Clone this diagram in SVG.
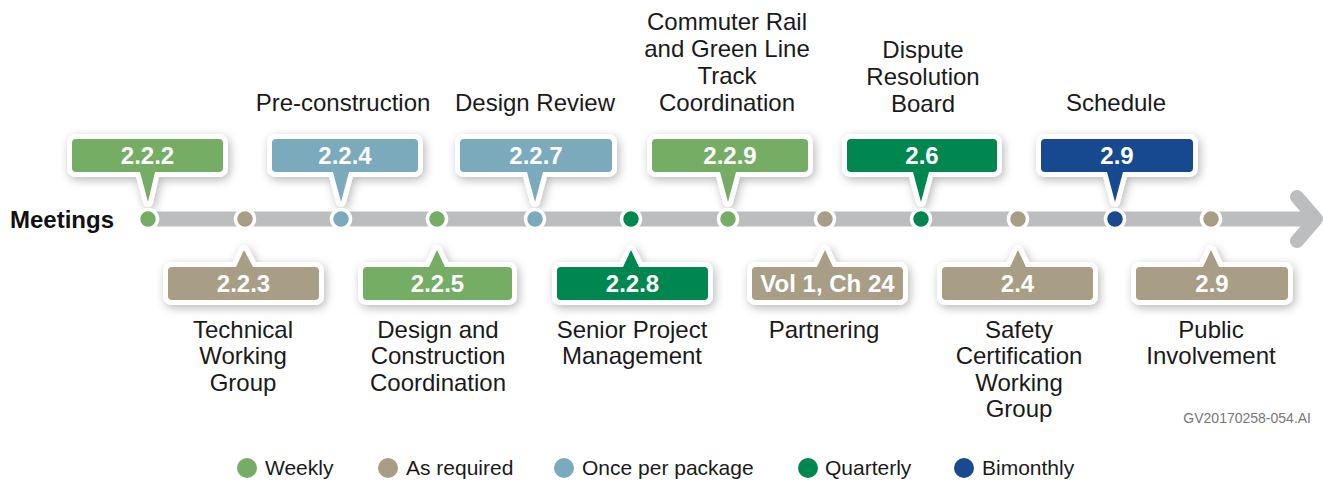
<svg xmlns="http://www.w3.org/2000/svg" width="1323" height="481" viewBox="0 0 1323 481">
<defs>
<filter id="sh" x="-20%" y="-30%" width="140%" height="180%">
<feDropShadow dx="2" dy="3" stdDeviation="5" flood-color="#000" flood-opacity="0.28"/>
</filter>
<style>
.lbl{font-family:"Liberation Sans",Arial,sans-serif;font-size:24px;fill:#1a1a1a;text-anchor:middle}
.num{font-family:"Liberation Sans",Arial,sans-serif;font-size:24px;font-weight:bold;fill:#fff;text-anchor:middle}
.leg{font-family:"Liberation Sans",Arial,sans-serif;font-size:21px;fill:#1a1a1a}
.call{stroke:#fff;stroke-width:10;stroke-linejoin:round;paint-order:stroke;filter:url(#sh)}
.dot{stroke:#fff;stroke-width:3.5}
.wk{fill:#76ad65}.ar{fill:#a89d85}.op{fill:#7aaabb}.qt{fill:#00874f}.bm{fill:#19498f}
</style>
</defs>
<rect width="1323" height="481" fill="#fff"/>
<text x="10" y="228" font-family="Liberation Sans,Arial,sans-serif" font-size="24" font-weight="bold" fill="#111">Meetings</text>
<g id="connectors">
<line x1="148" y1="219" x2="1312" y2="219" stroke="#bcbdbf" stroke-width="15"/>
<polyline points="1297,197 1316,219 1297,241" fill="none" stroke="#bcbdbf" stroke-width="14" stroke-linecap="round" stroke-linejoin="round"/>
</g>
<g id="n222"><path class="call wk" d="M76,139 H219 Q223,139 223,143 V168 Q223,172 219,172 H155 L148,202 L140,172 H76 Q72,172 72,168 V143 Q72,139 76,139 Z"/><text class="num" x="147.5" y="164">2.2.2</text><circle class="dot wk" cx="148" cy="219" r="9.5"/></g>
<g id="n224"><path class="call op" d="M276,139 H414 Q418,139 418,143 V168 Q418,172 414,172 H349 L341,202 L333,172 H276 Q272,172 272,168 V143 Q272,139 276,139 Z"/><text class="num" x="345" y="164">2.2.4</text><circle class="dot op" cx="341" cy="219" r="9.5"/><text class="lbl" x="343" y="111">Pre-construction</text></g>
<g id="n227"><path class="call op" d="M464,139 H608 Q612,139 612,143 V168 Q612,172 608,172 H543 L535,202 L527,172 H464 Q460,172 460,168 V143 Q460,139 464,139 Z"/><text class="num" x="536" y="164">2.2.7</text><circle class="dot op" cx="535" cy="219" r="9.5"/><text class="lbl" x="535" y="111">Design Review</text></g>
<g id="n229"><path class="call wk" d="M656,139 H804 Q808,139 808,143 V168 Q808,172 804,172 H736 L728,202 L720,172 H656 Q652,172 652,168 V143 Q652,139 656,139 Z"/><text class="num" x="730" y="164">2.2.9</text><circle class="dot wk" cx="728" cy="219" r="9.5"/><text class="lbl" x="727" y="30">Commuter Rail</text><text class="lbl" x="727" y="57">and Green Line</text><text class="lbl" x="727" y="84">Track</text><text class="lbl" x="727" y="111">Coordination</text></g>
<g id="n26"><path class="call qt" d="M851,139 H993 Q997,139 997,143 V168 Q997,172 993,172 H929 L921,202 L913,172 H851 Q847,172 847,168 V143 Q847,139 851,139 Z"/><text class="num" x="922" y="164">2.6</text><circle class="dot qt" cx="921" cy="219" r="9.5"/><text class="lbl" x="923" y="58">Dispute</text><text class="lbl" x="923" y="85">Resolution</text><text class="lbl" x="923" y="112">Board</text></g>
<g id="n29a"><path class="call bm" d="M1045,139 H1189 Q1193,139 1193,143 V168 Q1193,172 1189,172 H1123 L1115,202 L1107,172 H1045 Q1041,172 1041,168 V143 Q1041,139 1045,139 Z"/><text class="num" x="1117" y="164">2.9</text><circle class="dot bm" cx="1115" cy="219" r="9.5"/><text class="lbl" x="1116" y="111">Schedule</text></g>
<g id="n223"><path class="call ar" d="M172,267 H236 L244,250 L253,267 H315 Q319,267 319,271 V296 Q319,300 315,300 H172 Q168,300 168,296 V271 Q168,267 172,267 Z"/><text class="num" x="243.5" y="292">2.2.3</text><circle class="dot ar" cx="245" cy="219" r="9.5"/><text class="lbl" x="243" y="338">Technical</text><text class="lbl" x="243" y="364">Working</text><text class="lbl" x="243" y="391">Group</text></g>
<g id="n225"><path class="call wk" d="M367,267 H429 L437,250 L445,267 H508 Q512,267 512,271 V296 Q512,300 508,300 H367 Q363,300 363,296 V271 Q363,267 367,267 Z"/><text class="num" x="437.5" y="292">2.2.5</text><circle class="dot wk" cx="437" cy="219" r="9.5"/><text class="lbl" x="438" y="338">Design and</text><text class="lbl" x="438" y="364">Construction</text><text class="lbl" x="438" y="391">Coordination</text></g>
<g id="n228"><path class="call qt" d="M561,267 H623 L631,250 L639,267 H704 Q708,267 708,271 V296 Q708,300 704,300 H561 Q557,300 557,296 V271 Q557,267 561,267 Z"/><text class="num" x="632.5" y="292">2.2.8</text><circle class="dot qt" cx="631" cy="219" r="9.5"/><text class="lbl" x="632" y="338">Senior Project</text><text class="lbl" x="632" y="364">Management</text></g>
<g id="nvol"><path class="call ar" d="M756,267 H817 L825,250 L833,267 H899 Q903,267 903,271 V296 Q903,300 899,300 H756 Q752,300 752,296 V271 Q752,267 756,267 Z"/><text class="num" x="827.5" y="292">Vol 1, Ch 24</text><circle class="dot ar" cx="825" cy="219" r="9.5"/><text class="lbl" x="824" y="338">Partnering</text></g>
<g id="n24"><path class="call ar" d="M946,267 H1010 L1018,250 L1026,267 H1089 Q1093,267 1093,271 V296 Q1093,300 1089,300 H946 Q942,300 942,296 V271 Q942,267 946,267 Z"/><text class="num" x="1017.5" y="292">2.4</text><circle class="dot ar" cx="1018" cy="219" r="9.5"/><text class="lbl" x="1019" y="338">Safety</text><text class="lbl" x="1019" y="364">Certification</text><text class="lbl" x="1019" y="391">Working</text><text class="lbl" x="1019" y="417">Group</text></g>
<g id="n29b"><path class="call ar" d="M1140,267 H1203 L1211,250 L1219,267 H1284 Q1288,267 1288,271 V296 Q1288,300 1284,300 H1140 Q1136,300 1136,296 V271 Q1136,267 1140,267 Z"/><text class="num" x="1212" y="292">2.9</text><circle class="dot ar" cx="1211" cy="219" r="9.5"/><text class="lbl" x="1211" y="338">Public</text><text class="lbl" x="1211" y="364">Involvement</text></g>
<text x="1311" y="423" font-family="Liberation Sans,Arial,sans-serif" font-size="14" fill="#777" text-anchor="end">GV20170258-054.AI</text>
<g id="legend">
<circle class="wk" cx="247" cy="468" r="10"/><text class="leg" x="265" y="475">Weekly</text>
<circle class="ar" cx="388" cy="468" r="10"/><text class="leg" x="406" y="475">As required</text>
<circle class="op" cx="564" cy="468" r="10"/><text class="leg" x="582" y="475">Once per package</text>
<circle class="qt" cx="808" cy="468" r="10"/><text class="leg" x="825" y="475">Quarterly</text>
<circle class="bm" cx="964" cy="468" r="10"/><text class="leg" x="982" y="475">Bimonthly</text>
</g>
</svg>
